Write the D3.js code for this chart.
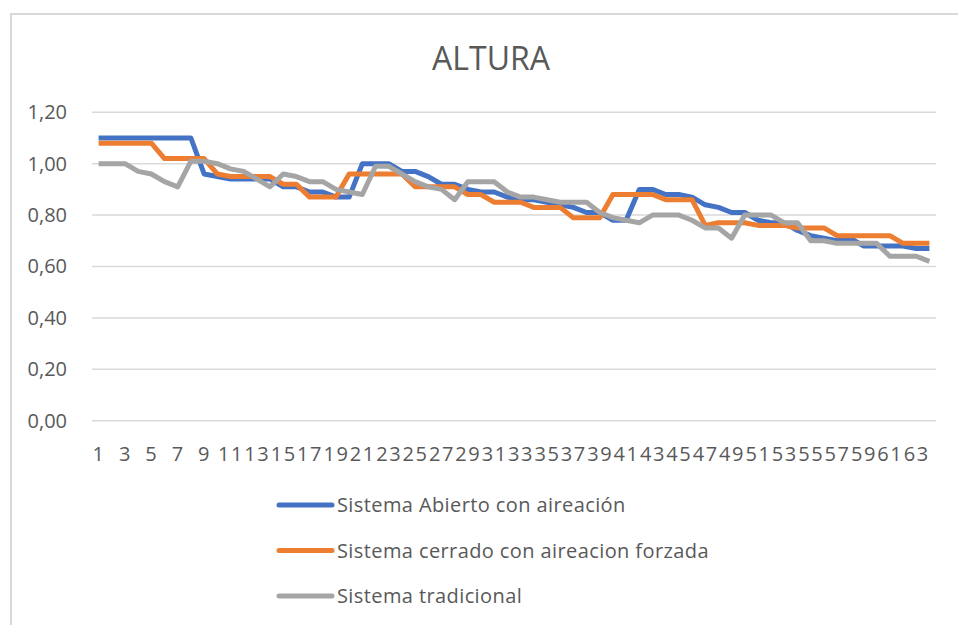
<!DOCTYPE html>
<html>
<head>
<meta charset="utf-8">
<script src="https://cdn.jsdelivr.net/npm/d3@7"></script>
<style>
  body { margin: 0; background: #fff; }
  text { font-family: "Open Sans", sans-serif; fill: #595959; }
</style>
</head>
<body>
<div class="canvas"></div>
<script>
const dims = {'width': 958, 'height': 625};
const plot = {'left': 92, 'right': 936, 'top': 112.3, 'bottom': 420.7};

// categories 1..64
const days = d3.range(1, 65);
const yTicks = [0, 0.2, 0.4, 0.6, 0.8, 1.0, 1.2];

const abierto = [1.10,1.10,1.10,1.10,1.10,1.10,1.10,1.10,0.96,0.95,
  0.94,0.94,0.94,0.94,0.91,0.91,0.89,0.89,0.87,0.87,
  1.00,1.00,1.00,0.97,0.97,0.95,0.92,0.92,0.90,0.89,
  0.89,0.87,0.86,0.86,0.85,0.84,0.83,0.81,0.81,0.78,
  0.78,0.90,0.90,0.88,0.88,0.87,0.84,0.83,0.81,0.81,
  0.78,0.77,0.77,0.74,0.72,0.71,0.70,0.71,0.68,0.68,
  0.68,0.68,0.67,0.67];
const cerrado = [1.08,1.08,1.08,1.08,1.08,1.02,1.02,1.02,1.02,0.96,
  0.95,0.95,0.95,0.95,0.92,0.92,0.87,0.87,0.87,0.96,
  0.96,0.96,0.96,0.96,0.91,0.91,0.91,0.91,0.88,0.88,
  0.85,0.85,0.85,0.83,0.83,0.83,0.79,0.79,0.79,0.88,
  0.88,0.88,0.88,0.86,0.86,0.86,0.76,0.77,0.77,0.77,
  0.76,0.76,0.76,0.75,0.75,0.75,0.72,0.72,0.72,0.72,
  0.72,0.69,0.69,0.69];
const tradicional = [1.00,1.00,1.00,0.97,0.96,0.93,0.91,1.01,1.01,1.00,
  0.98,0.97,0.94,0.91,0.96,0.95,0.93,0.93,0.90,0.89,
  0.88,0.99,0.99,0.96,0.93,0.91,0.90,0.86,0.93,0.93,
  0.93,0.89,0.87,0.87,0.86,0.85,0.85,0.85,0.81,0.79,
  0.78,0.77,0.80,0.80,0.80,0.78,0.75,0.75,0.71,0.80,
  0.80,0.80,0.77,0.77,0.70,0.70,0.69,0.69,0.69,0.69,
  0.64,0.64,0.64,0.62];

const seriesNames = ['Sistema Abierto con aireación', 'Sistema cerrado con aireacion forzada', 'Sistema tradicional'];
const colors = ['#4472C4', '#ED7D31', '#A5A5A5'];
const series = [abierto, cerrado, tradicional];

const svg = d3.select('.canvas')
  .append('svg')
  .attr('width', dims.width)
  .attr('height', dims.height);

// chart frame (only left and top edges visible)
svg.append('rect')
  .attr('x', 11).attr('y', 14)
  .attr('width', 1000).attr('height', 700)
  .attr('fill', 'none')
  .attr('stroke', '#d9d9d9')
  .attr('stroke-width', 2);

svg.append('text')
  .attr('x', 491).attr('y', 70)
  .attr('text-anchor', 'middle')
  .style('font-size', '32px')
  .text('ALTURA');

const x = d3.scalePoint().domain(days).range([plot.left, plot.right]).padding(0.5);
const y = d3.scaleLinear().domain([0, 1.2]).range([plot.bottom, plot.top]);

// gridlines
svg.append('g').selectAll('line').data(yTicks).enter().append('line')
  .attr('x1', plot.left).attr('x2', plot.right)
  .attr('y1', d => y(d)).attr('y2', d => y(d))
  .attr('stroke', '#d9d9d9').attr('stroke-width', 1.5);

const fmt = d => d3.format('.2f')(d).replace('.', ',');
const yAxis = d3.axisLeft(y).tickValues(yTicks).tickFormat(fmt).tickSize(0).tickPadding(25);
const yAxisGroup = svg.append('g').attr('transform', `translate(${plot.left},0)`).call(yAxis);
yAxisGroup.select('.domain').remove();
yAxisGroup.selectAll('.tick text')
  .style('font-size', '20px')
  .style('font-family', '"Open Sans", sans-serif')
  .attr('fill', '#595959');

const xAxis = d3.axisBottom(x).tickValues(days.filter(d => d % 2 === 1)).tickSize(0).tickPadding(26);
const xAxisGroup = svg.append('g').attr('transform', `translate(0,${plot.bottom})`).call(xAxis);
xAxisGroup.select('.domain').remove();
xAxisGroup.selectAll('.tick text')
  .style('font-size', '20px')
  .style('font-family', '"Open Sans", sans-serif')
  .style('letter-spacing', '1.6px')
  .attr('fill', '#595959');

const line = d3.line().x((d, i) => x(days[i])).y(d => y(d));

series.forEach((s, k) => {
  svg.append('path')
    .datum(s)
    .attr('fill', 'none')
    .attr('stroke', colors[k])
    .attr('stroke-width', 5)
    .attr('stroke-linejoin', 'round')
    .attr('d', line);
});

// legend
const legend = svg.append('g');
seriesNames.forEach((name, k) => {
  const ly = 505 + k * 45.5;
  legend.append('line')
    .attr('x1', 279).attr('x2', 332)
    .attr('y1', ly).attr('y2', ly)
    .attr('stroke', colors[k]).attr('stroke-width', 5)
    .attr('stroke-linecap', 'round');
  legend.append('text')
    .attr('x', 337).attr('y', ly).attr('dy', '0.35em')
    .style('font-size', '20px')
    .style('letter-spacing', '0.4px')
    .text(name);
});
</script>
</body>
</html>
